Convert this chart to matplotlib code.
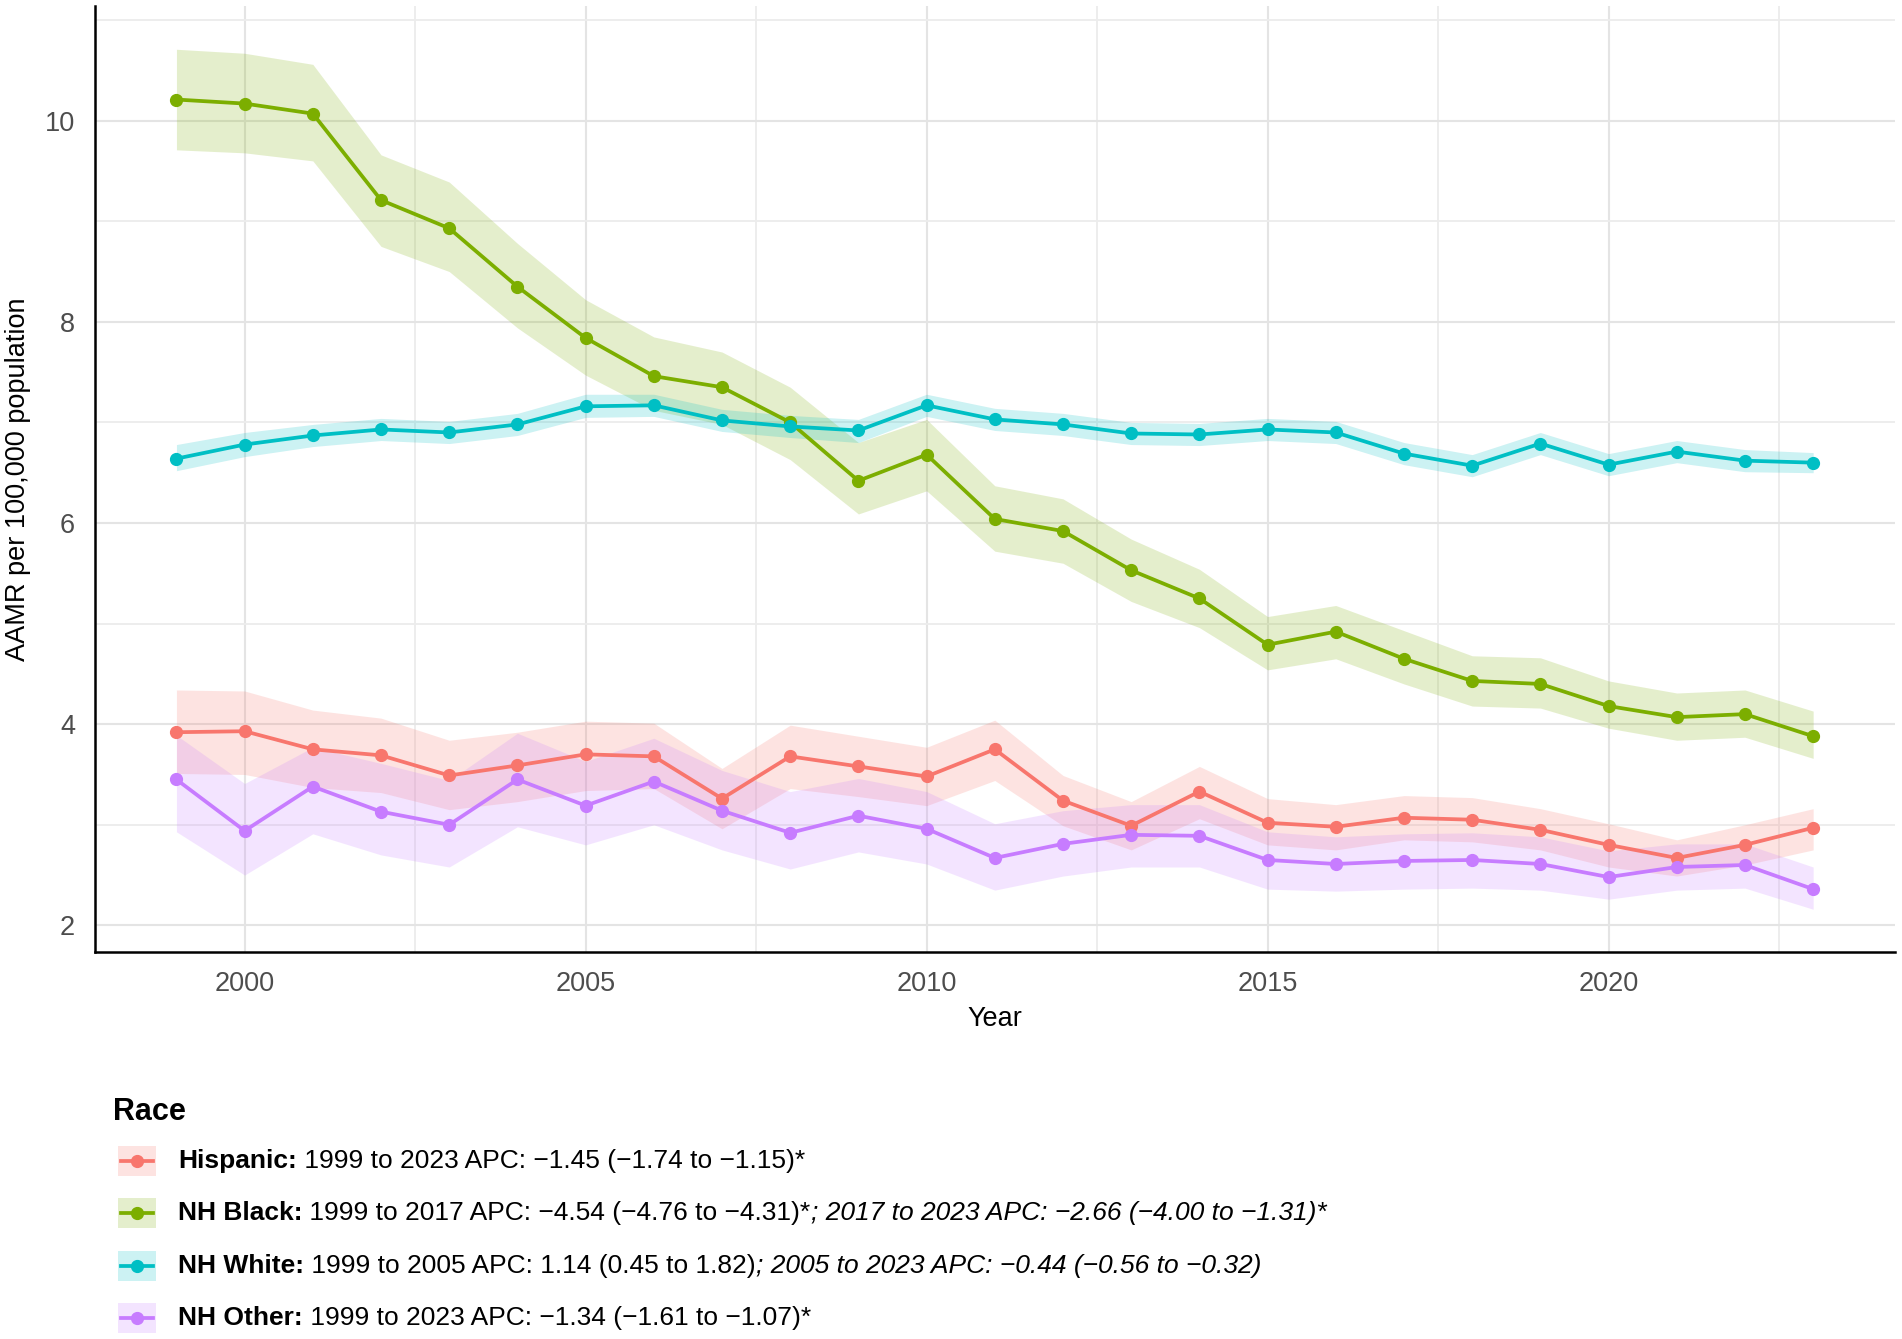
import matplotlib
matplotlib.use("Agg")
import matplotlib.pyplot as plt
from matplotlib.patches import Rectangle
from matplotlib.lines import Line2D
from matplotlib.ticker import MultipleLocator

plt.rcParams['font.family'] = ['Liberation Sans', 'DejaVu Sans']

years = list(range(1999, 2024))

hisp = [3.92, 3.93, 3.75, 3.69, 3.49, 3.59, 3.70, 3.68, 3.26, 3.68, 3.58, 3.48, 3.75,
        3.24, 2.99, 3.33, 3.02, 2.98, 3.07, 3.05, 2.95, 2.80, 2.67, 2.80, 2.97]
hisp_lo = [3.51, 3.50, 3.37, 3.32, 3.15, 3.23, 3.34, 3.36, 2.96, 3.36, 3.28, 3.19, 3.44,
           2.99, 2.75, 3.06, 2.80, 2.75, 2.85, 2.83, 2.75, 2.58, 2.49, 2.60, 2.75]
hisp_hi = [4.34, 4.33, 4.14, 4.06, 3.84, 3.92, 4.03, 4.01, 3.56, 3.99, 3.88, 3.77, 4.04,
           3.49, 3.23, 3.58, 3.26, 3.20, 3.29, 3.27, 3.16, 3.01, 2.85, 3.00, 3.16]

black = [10.21, 10.17, 10.07, 9.21, 8.93, 8.35, 7.84, 7.46, 7.35, 7.00, 6.42, 6.68, 6.04,
         5.92, 5.53, 5.25, 4.79, 4.92, 4.65, 4.43, 4.40, 4.18, 4.07, 4.10, 3.88]
black_lo = [9.71, 9.68, 9.60, 8.75, 8.50, 7.94, 7.47, 7.12, 6.98, 6.63, 6.09, 6.32, 5.72,
            5.60, 5.22, 4.96, 4.54, 4.65, 4.40, 4.18, 4.16, 3.96, 3.84, 3.87, 3.66]
black_hi = [10.71, 10.67, 10.56, 9.66, 9.39, 8.78, 8.22, 7.85, 7.70, 7.35, 6.80, 7.03, 6.37,
            6.24, 5.84, 5.54, 5.07, 5.18, 4.93, 4.68, 4.66, 4.43, 4.31, 4.34, 4.13]

white = [6.64, 6.78, 6.87, 6.93, 6.90, 6.98, 7.16, 7.17, 7.02, 6.96, 6.92, 7.17, 7.03,
         6.98, 6.89, 6.88, 6.93, 6.90, 6.69, 6.57, 6.79, 6.58, 6.71, 6.62, 6.60]
white_lo = [6.52, 6.66, 6.76, 6.82, 6.79, 6.87, 7.05, 7.06, 6.91, 6.85, 6.80, 7.06, 6.92,
            6.87, 6.78, 6.77, 6.82, 6.79, 6.58, 6.46, 6.68, 6.47, 6.60, 6.51, 6.50]
white_hi = [6.78, 6.90, 6.98, 7.04, 7.01, 7.09, 7.28, 7.28, 7.13, 7.07, 7.03, 7.28, 7.14,
            7.09, 7.00, 6.99, 7.04, 7.01, 6.80, 6.68, 6.90, 6.69, 6.82, 6.73, 6.70]

other = [3.45, 2.94, 3.38, 3.13, 3.00, 3.45, 3.19, 3.43, 3.14, 2.92, 3.09, 2.96, 2.67,
         2.81, 2.90, 2.89, 2.65, 2.61, 2.64, 2.65, 2.61, 2.48, 2.58, 2.60, 2.36]
other_lo = [2.93, 2.50, 2.91, 2.70, 2.58, 2.98, 2.80, 3.00, 2.75, 2.56, 2.73, 2.61, 2.35,
            2.49, 2.58, 2.58, 2.36, 2.34, 2.36, 2.37, 2.35, 2.26, 2.35, 2.37, 2.16]
other_hi = [3.89, 3.41, 3.77, 3.61, 3.44, 3.91, 3.63, 3.86, 3.54, 3.33, 3.46, 3.33, 3.01,
            3.14, 3.20, 3.20, 2.93, 2.88, 2.91, 2.92, 2.88, 2.74, 2.81, 2.81, 2.58]

groups = ["Hispanic", "NH Black", "NH White", "NH Other"]
colors = ["#F8766D", "#7CAE00", "#00BFC4", "#C77CFF"]
series = [(hisp, hisp_lo, hisp_hi), (black, black_lo, black_hi),
          (white, white_lo, white_hi), (other, other_lo, other_hi)]

legend_parts = [
    [("Hispanic:", "bold"), (" 1999 to 2023 APC: \u22121.45 (\u22121.74 to \u22121.15)*", "normal")],
    [("NH Black:", "bold"), (" 1999 to 2017 APC: \u22124.54 (\u22124.76 to \u22124.31)*", "normal"),
     ("; 2017 to 2023 APC: \u22122.66 (\u22124.00 to \u22121.31)*", "italic")],
    [("NH White:", "bold"), (" 1999 to 2005 APC: 1.14 (0.45 to 1.82)", "normal"),
     ("; 2005 to 2023 APC: \u22120.44 (\u22120.56 to \u22120.32)", "italic")],
    [("NH Other:", "bold"), (" 1999 to 2023 APC: \u22121.34 (\u22121.61 to \u22121.07)*", "normal")],
]

W, H = 1902, 1339
fig = plt.figure(figsize=(W / 100, H / 100), dpi=100)
ax_left, ax_right, ax_top, ax_bottom = 94.6, 1895, 6, 952
ax = fig.add_axes([ax_left / W, 1 - ax_bottom / H, (ax_right - ax_left) / W, (ax_bottom - ax_top) / H])

for (v, lo, hi), c in zip(series, colors):
    ax.fill_between(years, lo, hi, color=c, alpha=0.2, lw=0, zorder=2)
for (v, lo, hi), c in zip(series, colors):
    ax.plot(years, v, color=c, lw=2.7, marker='o', ms=8.5, zorder=3)

ax.set_xlim(1997.8, 2024.2)
ax.set_ylim(1.735, 11.14)
ax.xaxis.set_major_locator(MultipleLocator(5))
ax.xaxis.set_minor_locator(MultipleLocator(2.5))
ax.yaxis.set_major_locator(MultipleLocator(2))
ax.yaxis.set_minor_locator(MultipleLocator(1))
ax.grid(which='major', color='#E4E4E4', lw=1.5, zorder=0)
ax.grid(which='minor', color='#ECECEC', lw=1.3, zorder=0)
ax.set_axisbelow(True)
for s in ['top', 'right']:
    ax.spines[s].set_visible(False)
for s in ['left', 'bottom']:
    ax.spines[s].set_color('black')
    ax.spines[s].set_linewidth(1.8)
ax.tick_params(which='both', length=0, labelsize=19.5, labelcolor='#4D4D4D', pad=14)
ax.set_xlabel("Year", fontsize=19.5, color='black', labelpad=6)
ax.set_ylabel("AAMR per 100,000 population", fontsize=19.5, color='black')
ax.yaxis.set_label_coords((18 - ax_left) / (ax_right - ax_left), 0.5)
ax.yaxis.label.set_va('center')

# legend
fig.text(113 / W, 1 - 1112 / H, "Race", fontsize=22, fontweight='bold', va='center', ha='left')
row_y = [1161, 1213, 1266, 1318]
fig.canvas.draw()
renderer = fig.canvas.get_renderer()
for yc, c, parts in zip(row_y, colors, legend_parts):
    yf = 1 - yc / H
    fig.add_artist(Rectangle((118 / W, 1 - (yc + 15) / H), 38 / W, 30 / H,
                             transform=fig.transFigure, facecolor=c, alpha=0.2, lw=0))
    fig.add_artist(Line2D([121 / W, 153 / W], [yf, yf], transform=fig.transFigure,
                          color=c, lw=2.7))
    fig.add_artist(Line2D([137 / W], [yf], transform=fig.transFigure,
                          color=c, marker='o', ms=8.5, lw=0))
    x = 178
    for txt, style in parts:
        kw = dict(fontsize=19, va='center', ha='left')
        if style == 'bold':
            kw['fontweight'] = 'bold'
        elif style == 'italic':
            kw['fontstyle'] = 'italic'
        t = fig.text(x / W, yf, txt, **kw)
        bb = t.get_window_extent(renderer)
        x = bb.x1

fig.savefig("out.png", dpi=100)
